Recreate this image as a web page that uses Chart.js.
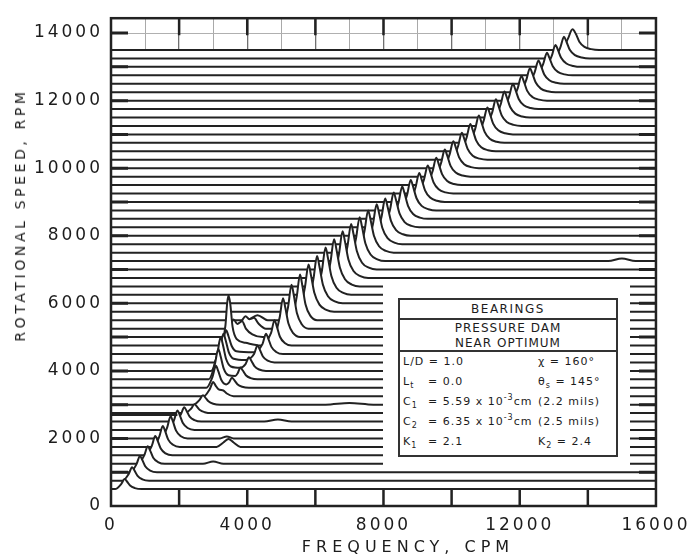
<!DOCTYPE html>
<html>
<head>
<meta charset="utf-8">
<script src="https://cdn.jsdelivr.net/npm/chart.js@4.4.0/dist/chart.umd.min.js"></script>
<style>
  body { margin: 0; background: #fff; }
  #wrap { position: relative; width: 692px; height: 559px; font-family: "DejaVu Sans", sans-serif; color: #1c1c1c; }
  #yTitle { position: absolute; left: 20px; top: 215px; transform: translate(-50%, -50%) rotate(-90deg);
            white-space: nowrap; font-size: 14px; letter-spacing: 3.6px; }
  #xTitle { position: absolute; left: 408px; top: 546px; transform: translate(-50%, -50%);
            white-space: nowrap; font-size: 16px; letter-spacing: 5px; }
  #mask  { position: absolute; left: 383px; top: 284px; width: 247px; height: 181px; background: #fff; }
  #panel { position: absolute; left: 398px; top: 298px; width: 216px; height: 155px; border: 2px solid #333;
           background: #fff; font-size: 11px; letter-spacing: 1px; }
  .head1 { height: 18px; line-height: 18px; text-align: center; font-size: 12px; letter-spacing: 1.5px; border-bottom: 2px solid #333; }
  .head2 { height: 32px; padding-top: 1px; box-sizing: border-box; line-height: 15px; text-align: center; font-size: 12px; border-bottom: 2px solid #333; }
  .row { position: relative; height: 20px; line-height: 20px; }
  .row span { position: absolute; top: 0; white-space: nowrap; }
  .a { left: 3px; } .b { left: 28px; } .c { left: 138px; }
  sub, sup { font-size: 8px; line-height: 0; }
</style>
</head>
<body>
<div id="wrap">
  <canvas id="chart" width="692" height="559"></canvas>
  <div id="yTitle">ROTATIONAL SPEED, RPM</div>
  <div id="xTitle">FREQUENCY, CPM</div>
  <div id="mask"></div>
  <div id="panel">
    <div class="head1">BEARINGS</div>
    <div class="head2">PRESSURE DAM<br>NEAR OPTIMUM</div>
    <div class="row"><span class="a">L/D = 1.0</span><span class="c">χ = 160°</span></div>
    <div class="row"><span class="a">L<sub>t</sub></span><span class="b">= 0.0</span><span class="c">θ<sub>s</sub> = 145°</span></div>
    <div class="row"><span class="a">C<sub>1</sub></span><span class="b">= 5.59 x 10<sup>-3</sup>cm</span><span class="c">(2.2 mils)</span></div>
    <div class="row"><span class="a">C<sub>2</sub></span><span class="b">= 6.35 x 10<sup>-3</sup>cm</span><span class="c">(2.5 mils)</span></div>
    <div class="row"><span class="a">K<sub>1</sub></span><span class="b">= 2.1</span><span class="c">K<sub>2</sub> = 2.4</span></div>
  </div>
</div>
<script>
// rotational speed of each waterfall trace (RPM), bottom to top
var speeds = [500, 750, 1000, 1250, 1500, 1750, 2000, 2250, 2500, 2750, 3000, 3250, 3500, 3750,
  4000, 4250, 4500, 4750, 5000, 5250, 5500, 5750, 6000, 6250, 6500, 6750, 7000, 7250, 7500,
  7750, 8000, 8250, 8500, 8750, 9000, 9250, 9500, 9750, 10000, 10250, 10500, 10750, 11000,
  11250, 11500, 11750, 12000, 12250, 12500, 12750, 13000, 13250, 13500];

// amplitude: [frequency CPM, height above its baseline]
var spectra = [
  [[120,0],[300,150],[400,300],[470,225],[560,105],[700,30],[900,0]],
  [[340,0],[520,200],[620,400],[690,300],[780,140],[920,40],[1120,0]],
  [[570,0],[750,240],[850,480],[920,360],[1010,170],[1150,48],[1350,0]],
  [[800,0],[980,260],[1080,520],[1150,390],[1240,180],[1380,52],[1580,0],[2700,0],[3000,70],[3300,0]],
  [[1020,0],[1200,285],[1300,570],[1370,430],[1460,200],[1600,57],[1800,0]],
  [[1240,0],[1420,310],[1520,620],[1590,465],[1680,215],[1820,62],[2020,0],[3100,0],[3300,130],[3450,230],[3600,130],[3800,0]],
  [[1470,0],[1650,330],[1750,660],[1820,495],[1910,230],[2050,66],[2250,0],[3200,0],[3400,60],[3600,0]],
  [[1670,0],[1850,290],[1950,580],[2020,435],[2110,205],[2250,58],[2450,0]],
  [[1870,0],[2050,210],[2150,420],[2220,315],[2310,145],[2450,42],[2650,0],[4500,0],[4900,60],[5300,0]],
  [[2170,0],[2350,130],[2450,260],[2520,195],[2610,90],[2750,26],[2950,0]],
  [[2420,0],[2600,140],[2700,280],[2770,210],[2860,100],[3000,28],[3200,0],[6300,0],[7000,50],[7700,0]],
  [[2720,0],[2900,210],[3000,420],[3070,315],[3160,200],[3300,170],[3400,80],[3600,0]],
  [[2800,0],[2980,325],[3080,650],[3150,490],[3240,230],[3380,100],[3470,160],[3550,300],[3620,225],[3710,105],[3850,30],[4050,0]],
  [[2870,0],[3050,450],[3150,900],[3220,675],[3310,315],[3450,120],[3650,100],[3720,180],[3800,350],[3870,260],[3960,120],[4100,35],[4300,0]],
  [[2940,0],[3120,500],[3220,1000],[3290,750],[3380,350],[3520,130],[3800,90],[3950,200],[4050,400],[4120,300],[4210,140],[4350,40],[4550,0]],
  [[3020,0],[3200,425],[3300,850],[3370,640],[3460,300],[3600,110],[3950,70],[4200,250],[4300,500],[4370,375],[4460,175],[4600,50],[4800,0]],
  [[3100,0],[3280,350],[3380,700],[3450,525],[3540,245],[3680,80],[4200,50],[4450,300],[4550,600],[4620,450],[4710,210],[4850,60],[5050,0]],
  [[3200,0],[3360,600],[3410,1250],[3450,1480],[3500,1250],[3570,550],[3700,180],[3950,80],[4400,0],[4700,375],[4800,750],[4870,560],[4960,260],[5100,75],[5300,0]],
  [[3380,0],[3520,360],[3600,520],[3710,390],[3850,470],[3960,250],[4150,80],[4450,0],[4770,0],[4950,575],[5050,1150],[5120,860],[5210,400],[5350,115],[5550,0]],
  [[3720,0],[3860,260],[3950,370],[4060,280],[4200,320],[4330,150],[4550,0],[5020,0],[5200,650],[5300,1300],[5370,975],[5460,455],[5600,130],[5800,0]],
  [[4000,0],[4300,150],[4600,0],[5270,0],[5450,675],[5550,1350],[5620,1010],[5710,470],[5850,135],[6050,0]],
  [[5500,0],[5690,700],[5800,1400],[5870,1090],[5970,560],[6120,210],[6320,56],[6550,0]],
  [[5750,0],[5940,700],[6050,1400],[6120,1090],[6220,560],[6370,210],[6570,56],[6800,0]],
  [[6000,0],[6190,700],[6300,1400],[6370,1090],[6470,560],[6620,210],[6820,56],[7050,0]],
  [[6250,0],[6440,700],[6550,1400],[6620,1090],[6720,560],[6870,210],[7070,56],[7300,0]],
  [[6500,0],[6690,690],[6800,1380],[6870,1075],[6970,550],[7120,205],[7320,55],[7550,0]],
  [[6750,0],[6940,675],[7050,1350],[7120,1050],[7220,540],[7370,200],[7570,54],[7800,0]],
  [[7000,0],[7190,650],[7300,1300],[7370,1015],[7470,520],[7620,195],[7820,52],[8050,0],[14600,0],[15000,80],[15400,0]],
  [[7250,0],[7440,625],[7550,1250],[7620,975],[7720,500],[7870,190],[8070,50],[8300,0]],
  [[7500,0],[7690,590],[7800,1180],[7870,920],[7970,470],[8120,177],[8320,47],[8550,0]],
  [[7750,0],[7940,550],[8050,1100],[8120,860],[8220,440],[8370,165],[8570,44],[8800,0]],
  [[8000,0],[8190,515],[8300,1030],[8370,800],[8470,410],[8620,155],[8820,41],[9050,0]],
  [[8250,0],[8440,480],[8550,960],[8620,750],[8720,385],[8870,145],[9070,38],[9300,0]],
  [[8500,0],[8690,450],[8800,900],[8870,700],[8970,360],[9120,135],[9320,36],[9550,0]],
  [[8750,0],[8940,430],[9050,860],[9120,670],[9220,345],[9370,130],[9570,34],[9800,0]],
  [[9000,0],[9190,415],[9300,830],[9370,650],[9470,330],[9620,125],[9820,33],[10050,0]],
  [[9250,0],[9440,405],[9550,810],[9620,630],[9720,325],[9870,120],[10070,32],[10300,0]],
  [[9500,0],[9690,400],[9800,800],[9870,625],[9970,320],[10120,120],[10320,32],[10550,0]],
  [[9750,0],[9940,400],[10050,800],[10120,625],[10220,320],[10370,120],[10570,32],[10800,0]],
  [[10000,0],[10190,400],[10300,800],[10370,625],[10470,320],[10620,120],[10820,32],[11050,0]],
  [[10250,0],[10440,405],[10550,810],[10620,630],[10720,325],[10870,120],[11070,32],[11300,0]],
  [[10500,0],[10690,405],[10800,810],[10870,630],[10970,325],[11120,120],[11320,32],[11550,0]],
  [[10750,0],[10940,400],[11050,800],[11120,625],[11220,320],[11370,120],[11570,32],[11800,0]],
  [[11000,0],[11190,395],[11300,790],[11370,615],[11470,315],[11620,118],[11820,32],[12050,0]],
  [[11250,0],[11440,385],[11550,770],[11620,600],[11720,310],[11870,115],[12070,31],[12300,0]],
  [[11500,0],[11690,375],[11800,750],[11870,585],[11970,300],[12120,112],[12320,30],[12550,0]],
  [[11750,0],[11940,365],[12050,730],[12120,570],[12220,290],[12370,110],[12570,29],[12800,0]],
  [[12000,0],[12190,355],[12300,710],[12370,555],[12470,285],[12620,106],[12820,28],[13050,0]],
  [[12250,0],[12440,345],[12550,690],[12620,540],[12720,275],[12870,104],[13070,28],[13300,0]],
  [[12500,0],[12690,335],[12800,670],[12870,520],[12970,270],[13120,100],[13320,27],[13550,0]],
  [[12750,0],[12940,325],[13050,650],[13120,505],[13220,260],[13370,98],[13570,26],[13800,0]],
  [[13000,0],[13190,320],[13300,640],[13370,500],[13470,255],[13620,96],[13820,26],[14050,0]],
  [[13230,0],[13410,320],[13550,610],[13650,470],[13750,245],[13900,92],[14100,24],[14330,0]]
];

// small inset frame in the lower-left corner (CPM / RPM)
var insetCpm = [0, 1950];
var insetRpm = 2700;

var xGridValues = [0, 1000, 2000, 3000, 4000, 5000, 6000, 7000, 8000, 9000, 10000,
  11000, 12000, 13000, 14000, 15000, 16000];
var xTickLabels = [0, 4000, 8000, 12000, 16000];
var yTickLabels = [0, 2000, 4000, 6000, 8000, 10000, 12000, 14000];
var xMax = 16000, yMax = 14440;

var ink = '#222';

var datasets = speeds.map(function (s, i) {
  var pts = [{ x: 0, y: s }];
  spectra[i].forEach(function (p) { pts.push({ x: p[0], y: s + p[1] }); });
  pts.push({ x: xMax, y: s });
  return {
    data: pts,
    borderColor: ink,
    borderWidth: 2,
    backgroundColor: '#fff',
    fill: 'start',              // white underneath hides the traces behind each peak
    pointRadius: 0,
    cubicInterpolationMode: 'monotone',
    borderJoinStyle: 'round'
  };
});

datasets.push({
  data: [{ x: insetCpm[0], y: insetRpm }, { x: insetCpm[1], y: insetRpm }],
  borderColor: ink, borderWidth: 2.2, pointRadius: 0, fill: false, order: -1
});

/* letter spacing for the tick labels, frame and edge dashes */
var paperPlugin = {
  id: 'paper',
  beforeDraw: function (c) { c.ctx.letterSpacing = '3px'; },
  afterDraw: function (c) {
    var ctx = c.ctx, a = c.chartArea, xs = c.scales.x, ys = c.scales.y, v, p;
    ctx.save();
    ctx.letterSpacing = '0px';
    ctx.strokeStyle = ink;
    ctx.lineWidth = 3;
    for (v = 1000; v <= 14000; v += 1000) {
      p = ys.getPixelForValue(v);
      ctx.beginPath();
      ctx.moveTo(a.left, p); ctx.lineTo(a.left + 17, p);
      ctx.moveTo(a.right - 17, p); ctx.lineTo(a.right, p);
      ctx.stroke();
    }
    ctx.lineWidth = 2.5;
    for (v = 2000; v < xMax; v += 2000) {
      p = xs.getPixelForValue(v);
      ctx.beginPath();
      ctx.moveTo(p, a.bottom); ctx.lineTo(p, a.bottom - 17);
      ctx.moveTo(p, a.top); ctx.lineTo(p, a.top + 17);
      ctx.stroke();
    }
    ctx.strokeRect(a.left, a.top, a.right - a.left, a.bottom - a.top);
    ctx.restore();
  }
};

new Chart(document.getElementById('chart'), {
  type: 'line',
  data: { datasets: datasets },
  plugins: [paperPlugin],
  options: {
    responsive: false,
    devicePixelRatio: 1,
    animation: false,
    events: [],
    layout: { padding: { left: 0, right: 34, top: 12, bottom: 0 } },
    plugins: { legend: { display: false }, tooltip: { enabled: false } },
    scales: {
      x: {
        type: 'linear', min: 0, max: xMax, z: 1,
        afterBuildTicks: function (s) { s.ticks = xGridValues.map(function (v) { return { value: v }; }); },
        afterFit: function (s) { s.height = 53; },
        border: { display: false },
        grid: {
          drawTicks: false,
          color: function (c) { return c.tick && c.tick.value % 2000 === 0 ? '#707070' : '#a9a9a9'; },
          lineWidth: function (c) { return c.tick && c.tick.value % 2000 === 0 ? 1.3 : 1; }
        },
        ticks: {
          autoSkip: false, maxRotation: 0, padding: 9,
          color: '#1c1c1c', font: { family: 'DejaVu Sans', size: 17 },
          callback: function (v) { return xTickLabels.indexOf(v) >= 0 ? String(v) : ''; }
        }
      },
      y: {
        type: 'linear', min: 0, max: yMax,
        afterBuildTicks: function (s) { s.ticks = yTickLabels.map(function (v) { return { value: v }; }); },
        afterFit: function (s) { s.width = 111; },
        border: { display: false },
        grid: {
          drawTicks: false,
          color: function (c) { return c.tick && c.tick.value === 14000 ? '#b0b0b0' : 'rgba(0,0,0,0)'; }
        },
        ticks: {
          autoSkip: false, padding: 8,
          color: '#1c1c1c', font: { family: 'DejaVu Sans', size: 17 },
          callback: function (v) { return String(v); }
        }
      }
    }
  }
});
</script>
</body>
</html>
